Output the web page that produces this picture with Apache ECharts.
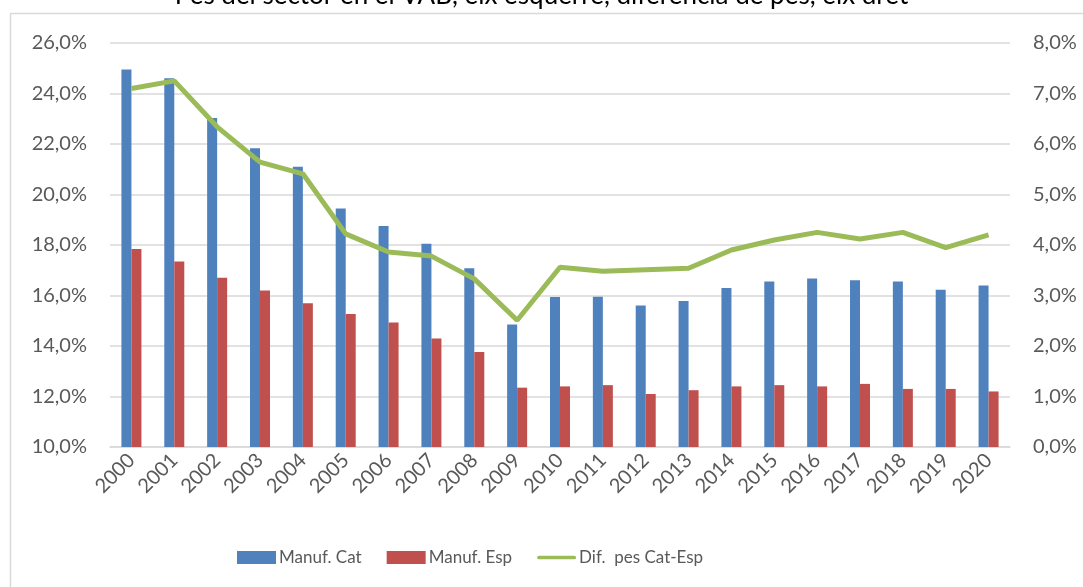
<!DOCTYPE html>
<html>
<head>
<meta charset="utf-8">
<script src="https://cdn.jsdelivr.net/npm/echarts@6/dist/echarts.min.js"></script>
<style>
  html, body { margin: 0; padding: 0; background: #fff; }
  #chart { width: 1083px; height: 587px; }
</style>
</head>
<body>
<div id="chart"></div>
<script>
const years = ["2000", "2001", "2002", "2003", "2004", "2005", "2006", "2007", "2008", "2009", "2010",
  "2011", "2012", "2013", "2014", "2015", "2016", "2017", "2018", "2019", "2020"];
const manufCat = [24.95, 24.6, 23.03, 21.83, 21.1, 19.45, 18.75, 18.05, 17.08, 14.85, 15.94,
  15.95, 15.6, 15.78, 16.3, 16.55, 16.67, 16.6, 16.55, 16.23, 16.4];
const manufEsp = [17.84, 17.35, 16.7, 16.2, 15.69, 15.27, 14.93, 14.3, 13.76, 12.35, 12.4,
  12.45, 12.1, 12.25, 12.4, 12.45, 12.4, 12.5, 12.3, 12.3, 12.2];
const difPes = [7.1, 7.25, 6.34, 5.64, 5.41, 4.22, 3.86, 3.78, 3.33, 2.51, 3.56,
  3.48, 3.51, 3.54, 3.9, 4.1, 4.25, 4.12, 4.25, 3.95, 4.2];

const font = "Lato, 'Open Sans', sans-serif";
const pct = (v) => v.toFixed(1).replace(".", ",") + "%";

const chart = echarts.init(document.getElementById("chart"));

chart.setOption({
  animation: false,
  textStyle: { fontFamily: font },
  title: {
    text: "Pes del sector en el VAB, eix esquerre, diferència de pes, eix dret",
    left: "center",
    top: -22,
    textStyle: { fontFamily: font, fontSize: 26, fontWeight: "normal", color: "#000" },
  },
  graphic: [
    {
      type: "rect",
      shape: { x: 10.5, y: 13.5, width: 1100, height: 600 },
      style: { fill: "none", stroke: "#d9d9d9", lineWidth: 1.5 },
      silent: true,
    },
  ],
  legend: {
    bottom: 16,
    left: 232,
    itemWidth: 39,
    itemHeight: 13,
    itemGap: 25,
    textStyle: { fontSize: 17, color: "#595959", padding: [0, 0, 0, -2] },
    data: [
      { name: "Manuf. Cat", icon: "rect" },
      { name: "Manuf. Esp", icon: "rect" },
      { name: "Dif.  pes Cat-Esp", icon: "path://M2,0 L40,0 A2,2 0 0 1 40,4 L2,4 A2,2 0 0 1 2,0 Z" },
    ],
  },
  grid: {
    top: 43,
    bottom: 140,
    left: 110,
    right: 73,
  },
  xAxis: {
    type: "category",
    data: years,
    axisTick: { show: false },
    axisLine: { lineStyle: { color: "#d9d9d9", width: 1.5 } },
    axisLabel: { rotate: 45, fontSize: 20, color: "#595959", margin: 10 },
  },
  yAxis: [
    {
      type: "value",
      min: 10,
      max: 26,
      interval: 2,
      axisLabel: { formatter: pct, fontSize: 20, color: "#595959", margin: 23 },
      splitLine: { lineStyle: { color: "#d9d9d9", width: 1.5 } },
      axisLine: { show: false },
      axisTick: { show: false },
    },
    {
      type: "value",
      min: 0,
      max: 8,
      interval: 1,
      axisLabel: { formatter: pct, fontSize: 20, color: "#595959", margin: 23 },
      splitLine: { show: false },
      axisLine: { show: false },
      axisTick: { show: false },
    },
  ],
  series: [
    {
      name: "Manuf. Cat",
      type: "bar",
      data: manufCat,
      barWidth: 10,
      barGap: "0%",
      itemStyle: { color: "#4F81BD" },
    },
    {
      name: "Manuf. Esp",
      type: "bar",
      data: manufEsp,
      barWidth: 10,
      barGap: "0%",
      itemStyle: { color: "#C0504D" },
    },
    {
      name: "Dif.  pes Cat-Esp",
      type: "line",
      yAxisIndex: 1,
      data: difPes,
      showSymbol: false,
      symbol: "none",
      itemStyle: { color: "#9BBB59" },
      lineStyle: { color: "#9BBB59", width: 5 },
    },
  ],
});
</script>
</body>
</html>
